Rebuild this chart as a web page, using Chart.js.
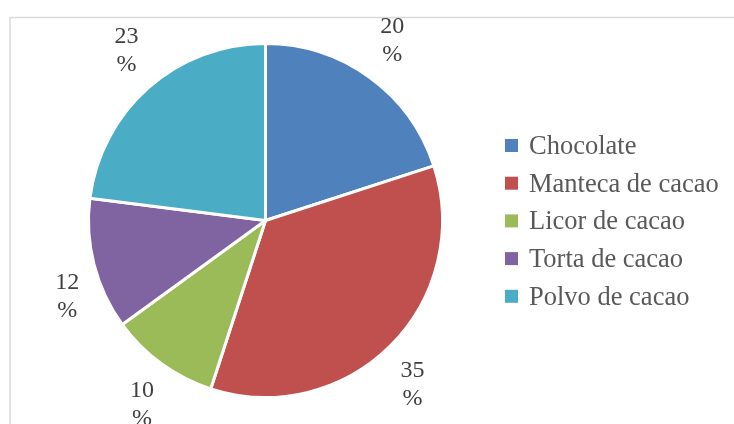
<!DOCTYPE html>
<html>
<head>
<meta charset="utf-8">
<script src="https://cdn.jsdelivr.net/npm/chart.js@4.4.1/dist/chart.umd.min.js"></script>
<style>
  html, body { margin: 0; padding: 0; background: #fff; }
  #wrap { width: 734px; height: 424px; position: relative; }
</style>
</head>
<body>
<div id="wrap"><canvas id="pieChart" width="734" height="424"></canvas></div>
<script>
const categories = ["Chocolate", "Manteca de cacao", "Licor de cacao", "Torta de cacao", "Polvo de cacao"];
const percentages = [20, 35, 10, 12, 23];
const sliceColors = ["#4F81BD", "#C0504D", "#9BBB59", "#8064A2", "#4BACC6"];

// small angle nudges (degrees) so labels sit where Excel put them
const labelNudge = [-1, 3, -2, -6.5, 2.3];

// frame, outside labels and legend drawn on the canvas
const extras = {
    id: "extras",
    beforeDraw(chart) {
        const c = chart.ctx;
        c.save();
        c.strokeStyle = "#d9d9d9";
        c.lineWidth = 1.5;
        c.beginPath();
        c.moveTo(10, 424);
        c.lineTo(10, 17.5);
        c.lineTo(734, 17.5);
        c.stroke();
        c.restore();
    },
    afterDraw(chart) {
        const c = chart.ctx;
        const meta = chart.getDatasetMeta(0);
        c.save();
        c.font = "24px 'Liberation Serif', 'Times New Roman', serif";
        c.fillStyle = "#404040";
        c.textAlign = "center";
        c.textBaseline = "middle";
        meta.data.forEach((arc, i) => {
            const mid = (arc.startAngle + arc.endAngle) / 2 + labelNudge[i] * Math.PI / 180;
            const cx = Math.cos(mid), cy = Math.sin(mid);
            // label box touches a ring just outside the pie
            const r = arc.outerRadius + 14 + 12 * Math.abs(cx) + 28 * Math.abs(cy);
            const x = arc.x + cx * r;
            const y = arc.y + cy * r;
            c.fillText(String(percentages[i]), x, y - 13);
            c.fillText("%", x, y + 15);
        });

        // legend
        c.font = "26.5px 'Liberation Serif', 'Times New Roman', serif";
        c.textAlign = "left";
        categories.forEach((name, i) => {
            const y = 146 + i * 37.7;
            c.fillStyle = sliceColors[i];
            c.fillRect(505, y - 7, 13, 13);
            c.fillStyle = "#595959";
            c.fillText(name, 529, y + 1);
        });
        c.restore();
    },
};

const ctx = document.getElementById("pieChart").getContext("2d");

const chart = new Chart(ctx, {
    type: "pie",
    data: {
        labels: categories,
        datasets: [
            {
                data: percentages,
                backgroundColor: sliceColors,
                borderColor: "#ffffff",
                borderWidth: 3,
            },
        ],
    },
    options: {
        responsive: false,
        animation: false,
        layout: {
            padding: { left: 87, right: 290, top: 42, bottom: 25 },
        },
        plugins: {
            legend: { display: false },
            tooltip: { enabled: false },
        },
    },
    plugins: [extras],
});
</script>
</body>
</html>
